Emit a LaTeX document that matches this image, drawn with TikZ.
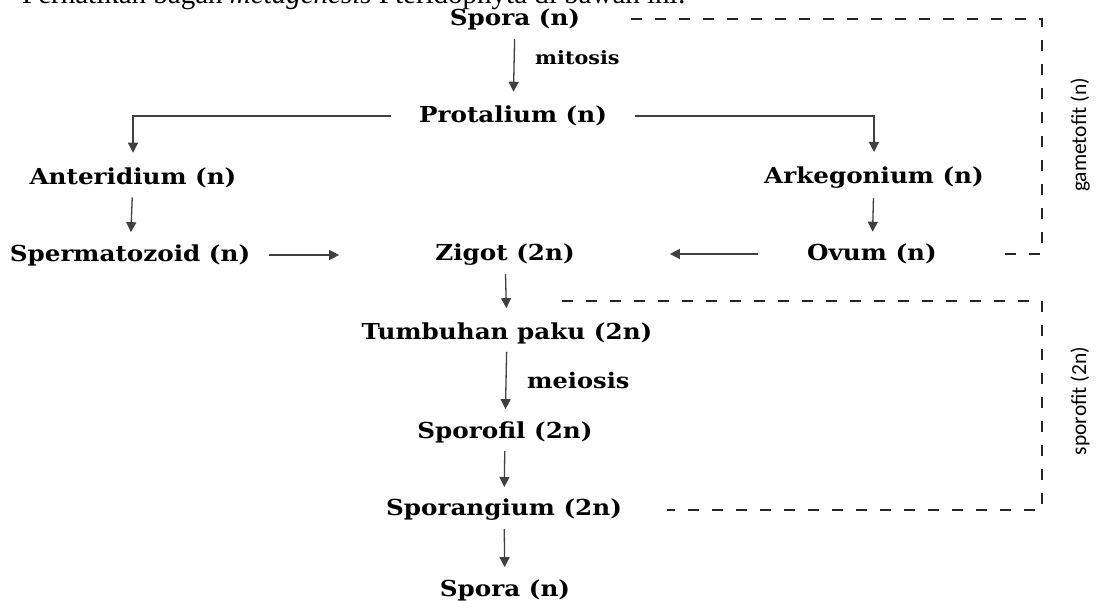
\documentclass[tikz,border=0pt]{standalone}
\usepackage{fontspec}
\setmainfont{Liberation Serif}
\newfontfamily\stagefont[FakeStretch=1.12]{DejaVu Serif}
\newfontfamily\phasefont{Carlito}
\usetikzlibrary{arrows.meta}

\begin{document}
\begin{tikzpicture}[x=1pt, y=-1pt,
    stage/.style={font=\stagefont\bfseries\fontsize{22}{22}\selectfont, inner sep=0pt},
    process/.style={font=\stagefont\bfseries\fontsize{18.5}{18.5}\selectfont, inner sep=0pt, anchor=west},
    flow/.style={draw=black!75, line width=1.3pt, -{Triangle[length=10pt,width=10pt]}},
    phase/.style={draw=black!85, line width=1.8pt, dash pattern=on 11pt off 13pt},
    phaselabel/.style={font=\phasefont\fontsize{21.5}{21.5}\selectfont, rotate=90}]

    \clip (0,0) rectangle (1098,601);

    % Question line, cut by the top edge
    \node[anchor=base west, inner sep=0pt, font=\fontsize{29}{29}\selectfont] (question) at (22,4)
        {Perhatikan bagan \textit{metagenesis} Pteridophyta di bawah ini:};

    % Gametophyte stages
    \node[stage] (sporaTop) at (515,19) {Spora (n)};
    \node[stage] (protalium) at (513,116) {Protalium (n)};
    \node[stage] (anteridium) at (133,178) {Anteridium (n)};
    \node[stage] (arkegonium) at (874,178) {Arkegonium (n)};
    \node[stage] (spermatozoid) at (130,255) {Spermatozoid (n)};
    \node[stage] (ovum) at (872,254) {Ovum (n)};

    % Sporophyte stages
    \node[stage] (zigot) at (505,255) {Zigot (2n)};
    \node[stage] (tumbuhan) at (507,333) {Tumbuhan paku (2n)};
    \node[stage] (sporofil) at (505,432) {Sporofil (2n)};
    \node[stage] (sporangium) at (504,510) {Sporangium (2n)};
    \node[stage] (sporaBottom) at (505,590) {Spora (n)};

    % Division labels
    \node[process] (mitosis) at (535,58) {mitosis};
    \node[process, font=\stagefont\bfseries\fontsize{21.5}{21.5}\selectfont] (meiosis) at (527,380) {meiosis};

    % Arrows
    \draw[flow, shorten <=9pt, shorten >=14pt] (sporaTop) -- (protalium);
    \draw[flow, shorten <=28pt, shorten >=15pt] (protalium.west) -| (anteridium.north);
    \draw[flow, shorten <=28pt, shorten >=15pt] (protalium.east) -| (arkegonium.north);
    \draw[flow, shorten <=9pt, shorten >=12pt] (anteridium) -- (spermatozoid);
    \draw[flow, shorten <=9pt, shorten >=12pt] (arkegonium) -- (ovum);
    \draw[flow, shorten <=19pt, shorten >=96pt] (spermatozoid.east) -- (spermatozoid.east -| zigot.west);
    \draw[flow, shorten <=49pt, shorten >=95pt] (ovum.west) -- (ovum.west -| zigot.east);
    \draw[flow, shorten <=8pt, shorten >=14pt] (zigot) -- (tumbuhan);
    \draw[flow, shorten <=8pt, shorten >=12pt] (tumbuhan) -- (sporofil);
    \draw[flow, shorten <=8pt, shorten >=12pt] (sporofil) -- (sporangium);
    \draw[flow, shorten <=8pt, shorten >=12pt] (sporangium) -- (sporaBottom);

    % Phase brackets
    \coordinate (phaseEdge) at (1042,0);
    \coordinate (sporoStart) at (562,301);
    \draw[phase, shorten <=51pt, shorten >=56pt] (sporaTop.east) -- (sporaTop.east -| phaseEdge)
        -- (ovum.east -| phaseEdge) -- (ovum.east);
    \draw[phase, shorten >=45pt] (sporoStart) -- (sporoStart -| phaseEdge)
        -- (sporangium.east -| phaseEdge) -- (sporangium.east);
    \node[phaselabel] (gametofit) at (1080,135) {gametofit (n)};
    \node[phaselabel] (sporofit) at (1080,401) {sporofit (2n)};
\end{tikzpicture}
\end{document}
